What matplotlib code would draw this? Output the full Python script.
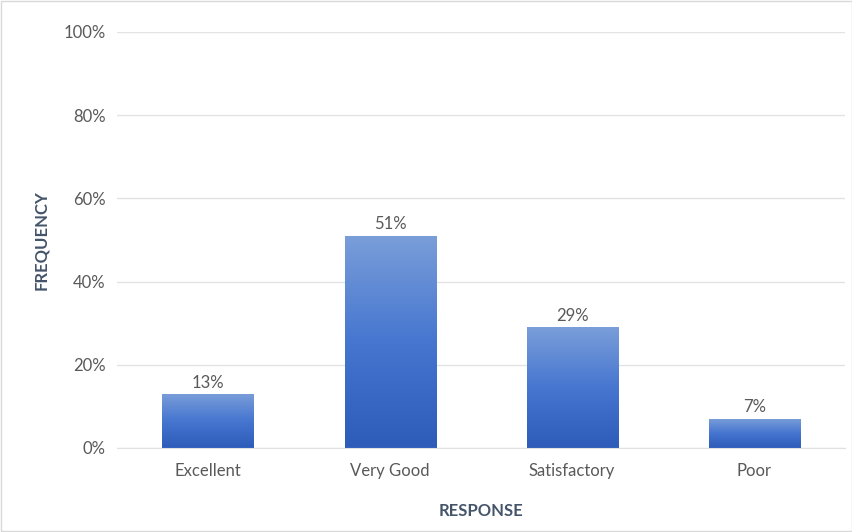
import matplotlib
matplotlib.use("Agg")
import matplotlib.pyplot as plt
import numpy as np
from matplotlib.colors import LinearSegmentedColormap

plt.rcParams['font.family'] = ['Lato', 'DejaVu Sans']

categories = ["Excellent", "Very Good", "Satisfactory", "Poor"]
values = [13, 51, 29, 7]
y_ticks = [0, 20, 40, 60, 80, 100]

text_color = '#595959'

fig = plt.figure(figsize=(8.53, 5.32), dpi=100)
fig.patch.set_facecolor('white')
ax = fig.add_axes([0.137, 0.158, 0.854, 0.782])

x = np.arange(len(categories))
bars = ax.bar(x, values, width=0.5, color='#3d6cc7', edgecolor='#c5d3ee', linewidth=0.6, zorder=2)

# vertical gradient inside each bar (light top, darker bottom)
cmap = LinearSegmentedColormap.from_list('grad', ['#2d5bb9', '#4676d0', '#7a9ed9'])
grad = np.linspace(0, 1, 256).reshape(-1, 1)
for b in bars:
    x0, y0 = b.get_x(), b.get_y()
    w, h = b.get_width(), b.get_height()
    im = ax.imshow(grad, cmap=cmap, origin='lower', aspect='auto',
                   extent=[x0, x0 + w, y0, y0 + h], zorder=2.5)
    im.set_clip_path(b)

for xi, v in zip(x, values):
    ax.text(xi, v + 0.8, f"{v}%", ha='center', va='bottom', fontsize=12, color=text_color)

ax.set_xlim(-0.5, len(categories) - 0.5)
ax.set_ylim(0, 100)
ax.set_yticks(y_ticks)
ax.set_yticklabels([f"{t}%" for t in y_ticks], fontsize=12, color=text_color)
ax.set_xticks(x)
ax.set_xticklabels(categories, fontsize=12, color=text_color)
ax.tick_params(axis='x', length=0, pad=11)
ax.tick_params(axis='y', length=0, pad=8)

ax.grid(axis='y', color='#e3e3e3', linewidth=1, zorder=0)
ax.set_axisbelow(True)
for s in ax.spines.values():
    s.set_visible(False)
ax.spines['bottom'].set_visible(True)
ax.spines['bottom'].set_color('#e0e0e0')

ax.set_xlabel("RESPONSE", fontsize=12, fontweight='bold', color='#44546a', labelpad=17)
ax.set_ylabel("FREQUENCY", fontsize=12, fontweight='bold', color='#44546a', labelpad=10)

# thin frame round the figure
fig.add_artist(plt.Rectangle((0.001, 0.001), 0.998, 0.998, transform=fig.transFigure,
                             fill=False, edgecolor='#d9d9d9', linewidth=1))

fig.savefig("out.png", dpi=100, facecolor='white')
